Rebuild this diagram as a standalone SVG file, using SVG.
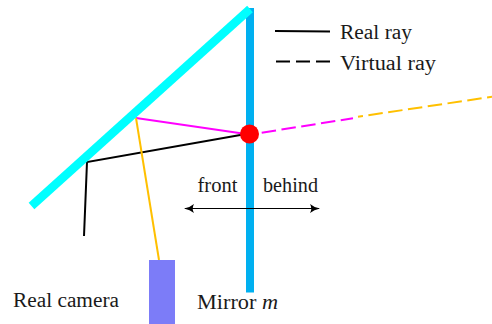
<svg xmlns="http://www.w3.org/2000/svg" width="492" height="324" viewBox="0 0 492 324">
<style>
.t{font-family:"Liberation Serif","Times New Roman",serif;font-size:20.5px;fill:#1a1a1a}
.r{fill:none;stroke-width:2}
.v{fill:none;stroke-width:2;stroke-dasharray:14.500 5.500}
</style>
<defs>
<marker id="a" viewBox="0 0 10 10" refX="9" refY="5" markerWidth="10" markerHeight="10" markerUnits="userSpaceOnUse" orient="auto-start-reverse"><path d="M0 0.5Q4 4 10 5Q4 6 0 9.5Q2.500 5 0 0.5Z" fill="#000"/></marker>
</defs>
<rect width="492" height="324" fill="#fff"/>
<g id="connectors">
<path class="r" d="M84 236L87 162L246 134" stroke="#000"/>
<path class="r" d="M246 134L136 118" stroke="#f0f"/>
<path class="r" d="M136 118L159 260" stroke="#ffc000"/>
<path class="v" d="M261.700 132.700L353 118.300" stroke="#f0f"/>
<path class="v" d="M358 116.800L492 96.700" stroke="#ffc000" stroke-dashoffset="9.500"/>
</g>
<g id="mirror-m"><rect x="246" y="8" width="8" height="284.500" fill="#00b0f0"/></g>
<g id="mirror-angled"><line x1="31.500" y1="206" x2="250" y2="9" stroke="#0ff" stroke-width="8.500"/></g>
<g id="point"><circle cx="249.500" cy="134" r="9.500" fill="#f00"/></g>
<g id="camera"><rect x="149" y="260" width="26" height="64" fill="#7c7cf8"/></g>
<path id="front-behind" fill="none" stroke="#000" stroke-width="1.200" d="M185 208.500H319" marker-start="url(#a)" marker-end="url(#a)"/>
<g id="legend">
<line x1="275" y1="31" x2="330" y2="31.500" stroke="#000" stroke-width="2"/>
<line x1="276" y1="61.500" x2="330" y2="61.500" stroke="#000" stroke-width="2" stroke-dasharray="14 6"/>
<text class="t" x="340" y="39" textLength="72" lengthAdjust="spacingAndGlyphs">Real ray</text>
<text class="t" x="340" y="69.500" textLength="96" lengthAdjust="spacingAndGlyphs">Virtual ray</text>
</g>
<text class="t" x="197.500" y="192" textLength="40" lengthAdjust="spacingAndGlyphs">front</text>
<text class="t" x="263" y="192" textLength="55" lengthAdjust="spacingAndGlyphs">behind</text>
<text class="t" x="13" y="307" textLength="106" lengthAdjust="spacingAndGlyphs">Real camera</text>
<text class="t" x="197" y="309" textLength="81" lengthAdjust="spacingAndGlyphs">Mirror <tspan font-style="italic">m</tspan></text>
</svg>
